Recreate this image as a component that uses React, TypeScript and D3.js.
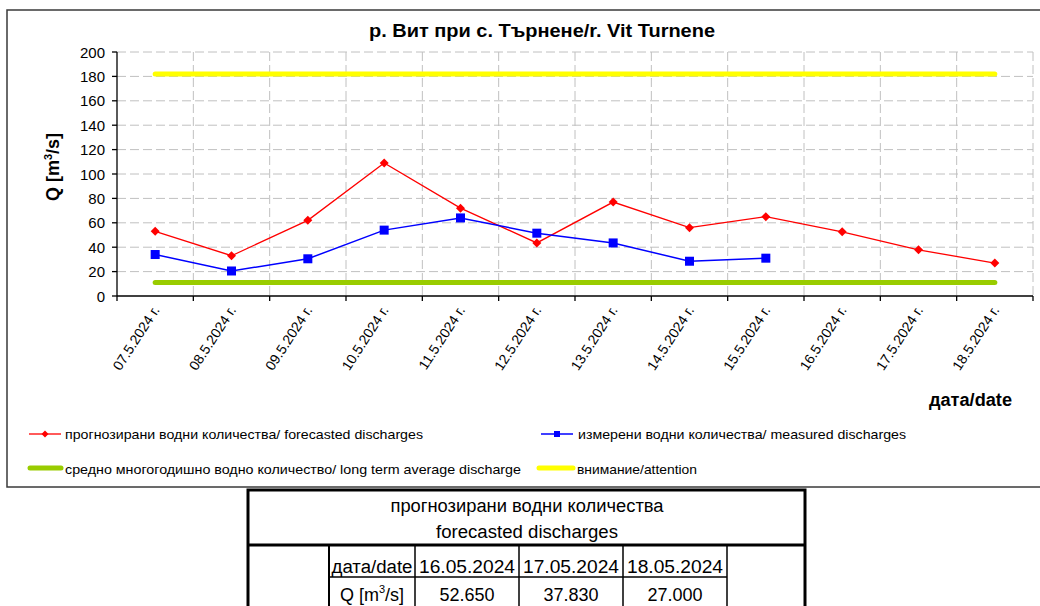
import * as d3 from "d3";

const W = 1040;
const H = 606;

const categories = [
  "07.5.2024 г.", "08.5.2024 г.", "09.5.2024 г.", "10.5.2024 г.",
  "11.5.2024 г.", "12.5.2024 г.", "13.5.2024 г.", "14.5.2024 г.",
  "15.5.2024 г.", "16.5.2024 г.", "17.5.2024 г.", "18.5.2024 г.",
];
const forecasted = [53, 33, 62, 109, 72, 43.5, 77, 56, 65, 52.65, 37.83, 27];
const measured = [34, 20.5, 30.5, 54, 64, 51.5, 43.5, 28.5, 31];
const longTermAverage = 11;
const attention = 182;
const yTicks = [0, 20, 40, 60, 80, 100, 120, 140, 160, 180, 200];

const tableDates = ["16.05.2024", "17.05.2024", "18.05.2024"];
const tableValues = ["52.650", "37.830", "27.000"];

const FONT = "'Liberation Sans', Arial, sans-serif";

const plot = { left: 117, right: 1033, top: 52, bottom: 296 };

export default function App() {
  const x = d3.scaleBand().domain(categories).range([plot.left, plot.right]);
  const y = d3.scaleLinear().domain([0, 200]).range([plot.bottom, plot.top]);
  const cx = (i: number) => x(categories[i])! + x.bandwidth() / 2;

  const line = d3
    .line<number>()
    .x((_, i) => cx(i))
    .y((d) => y(d));

  const first = cx(0);
  const last = cx(categories.length - 1);
  const boundaries = categories.map((c) => x(c)!).concat([plot.right]);

  const diamond = (px: number, py: number, r = 4.5) =>
    `M${px},${py - r}L${px + r},${py}L${px},${py + r}L${px - r},${py}Z`;

  // table layout
  const tb = { left: 248, right: 805, top: 490, mid: 545, row: 577 };
  const cols = [329, 415, 519, 623, 727];

  return (
    <svg
      width={W}
      height={H}
      style={{ position: "fixed", left: 0, top: 0, background: "#fff" }}
      fontFamily={FONT}
    >
      <rect x={0} y={0} width={W} height={H} fill="#fff" />
      {/* chart frame */}
      <rect x={7} y={10} width={1045} height={477} fill="none" stroke="#3a3a3a" strokeWidth={1.5} />

      <text x={542} y={37} textAnchor="middle" fontSize={19} fontWeight="bold" textLength={346} lengthAdjust="spacingAndGlyphs">
        р. Вит при с. Търнене/r. Vit Turnene
      </text>

      {/* grid */}
      <g stroke="#c0c0c0" strokeWidth={1} strokeDasharray="9 4">
        {yTicks.filter((t) => t > 0).map((t) => (
          <line key={t} x1={plot.left} x2={plot.right} y1={y(t)} y2={y(t)} />
        ))}
        {boundaries.slice(1).map((b, i) => (
          <line key={i} x1={b} x2={b} y1={plot.top} y2={plot.bottom} />
        ))}
      </g>

      {/* axes */}
      <g stroke="#000" strokeWidth={1.3}>
        <line x1={plot.left} x2={plot.left} y1={plot.top} y2={plot.bottom} />
        <line x1={plot.left} x2={plot.right} y1={plot.bottom} y2={plot.bottom} />
        {yTicks.map((t) => (
          <line key={t} x1={plot.left - 5} x2={plot.left} y1={y(t)} y2={y(t)} />
        ))}
        {boundaries.map((b, i) => (
          <line key={i} x1={b} x2={b} y1={plot.bottom} y2={plot.bottom + 5} />
        ))}
      </g>
      <g fontSize={15} textAnchor="end">
        {yTicks.map((t) => (
          <text key={t} x={105} y={y(t) + 5.5}>{t}</text>
        ))}
      </g>
      <g fontSize={14}>
        {categories.map((c, i) => (
          <text key={c} textAnchor="end" transform={`translate(${cx(i) + 5},${plot.bottom + 14}) rotate(-57)`}>
            {c}
          </text>
        ))}
      </g>
      <text transform="translate(59,167) rotate(-90)" textAnchor="middle" fontSize={18} fontWeight="bold">
        Q [m<tspan fontSize={11} dy={-7}>3</tspan><tspan dy={7}>/s]</tspan>
      </text>
      <text x={1012} y={406} textAnchor="end" fontSize={18} fontWeight="bold" textLength={83} lengthAdjust="spacingAndGlyphs">
        дата/date
      </text>

      {/* reference lines */}
      <line x1={first} x2={last} y1={y(attention)} y2={y(attention)} stroke="#ffff00" strokeWidth={5} strokeLinecap="round" />
      <line x1={first} x2={last} y1={y(longTermAverage)} y2={y(longTermAverage)} stroke="#99cc00" strokeWidth={5} strokeLinecap="round" />

      {/* series */}
      <path d={line(forecasted)!} fill="none" stroke="#ff0000" strokeWidth={1.3} />
      {forecasted.map((v, i) => (
        <path key={i} d={diamond(cx(i), y(v))} fill="#ff0000" />
      ))}
      <path d={line(measured)!} fill="none" stroke="#0000ff" strokeWidth={1.5} />
      {measured.map((v, i) => (
        <rect key={i} x={cx(i) - 4.5} y={y(v) - 4.5} width={9} height={9} fill="#0000ff" />
      ))}

      {/* legend */}
      <g fontSize={13}>
        <line x1={29} x2={61} y1={434} y2={434} stroke="#ff0000" strokeWidth={1.3} />
        <path d={diamond(45, 434, 3.5)} fill="#ff0000" />
        <text x={65} y={439} textLength={358} lengthAdjust="spacingAndGlyphs">
          прогнозирани  водни количества/ forecasted discharges
        </text>
        <line x1={541} x2={573} y1={434} y2={434} stroke="#0000ff" strokeWidth={1.5} />
        <rect x={554} y={431} width={6} height={6} fill="#0000ff" />
        <text x={578} y={439} textLength={328} lengthAdjust="spacingAndGlyphs">
          измерени  водни количества/ measured discharges
        </text>
        <line x1={30} x2={61} y1={468} y2={468} stroke="#99cc00" strokeWidth={5} strokeLinecap="round" />
        <text x={65} y={474} textLength={456} lengthAdjust="spacingAndGlyphs">
          средно  многогодишно  водно количество/ long term average discharge
        </text>
        <line x1={539} x2={573} y1={468} y2={468} stroke="#ffff00" strokeWidth={5} strokeLinecap="round" />
        <text x={577} y={474} textLength={120} lengthAdjust="spacingAndGlyphs">
          внимание/attention
        </text>
      </g>

      {/* forecast table */}
      <g stroke="#000" fill="none">
        <rect x={tb.left} y={tb.top} width={tb.right - tb.left} height={H + 10 - tb.top} strokeWidth={3} />
        <line x1={tb.left} x2={tb.right} y1={tb.mid} y2={tb.mid} strokeWidth={3} />
        <line x1={cols[0]} x2={cols[0]} y1={tb.mid} y2={H + 5} strokeWidth={2} />
        {cols.slice(1).map((c) => (
          <line key={c} x1={c} x2={c} y1={tb.mid} y2={H + 5} strokeWidth={1.5} />
        ))}
        <line x1={cols[0]} x2={cols[4]} y1={tb.row} y2={tb.row} strokeWidth={1.5} />
      </g>
      <g fontSize={18} textAnchor="middle">
        <text x={527} y={512} textLength={273} lengthAdjust="spacingAndGlyphs">прогнозирани водни количества</text>
        <text x={527} y={538} textLength={182} lengthAdjust="spacingAndGlyphs">forecasted discharges</text>
        <text x={(cols[0] + cols[1]) / 2} y={573} textLength={81} lengthAdjust="spacingAndGlyphs">дата/date</text>
        <text x={(cols[0] + cols[1]) / 2} y={601}>
          Q [m<tspan fontSize={11} dy={-8}>3</tspan><tspan dy={8}>/s]</tspan>
        </text>
        {tableDates.map((d, i) => (
          <text key={d} x={(cols[i + 1] + cols[i + 2]) / 2} y={573} textLength={96} lengthAdjust="spacingAndGlyphs">{d}</text>
        ))}
        {tableValues.map((v, i) => (
          <text key={v} x={(cols[i + 1] + cols[i + 2]) / 2} y={601}>{v}</text>
        ))}
      </g>
    </svg>
  );
}
